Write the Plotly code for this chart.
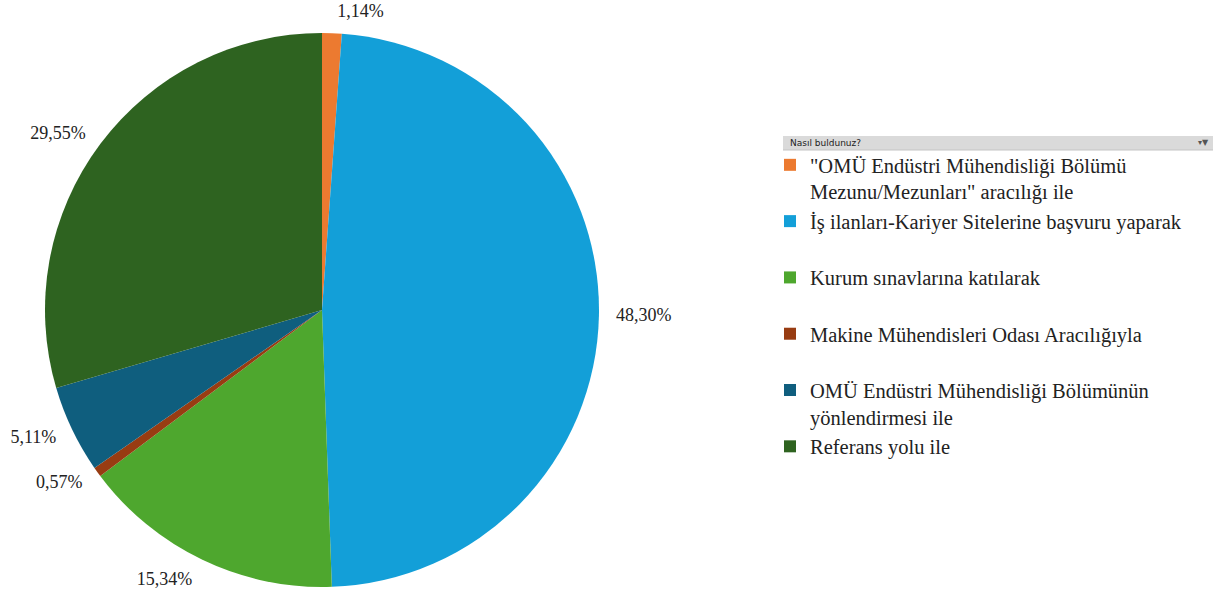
import plotly.graph_objects as go

CATEGORIES = [
    "\"OMÜ Endüstri Mühendisliği Bölümü<br>Mezunu/Mezunları\" aracılığı ile",
    "İş ilanları-Kariyer Sitelerine başvuru yaparak",
    "Kurum sınavlarına katılarak",
    "Makine Mühendisleri Odası Aracılığıyla",
    "OMÜ Endüstri Mühendisliği Bölümünün<br>yönlendirmesi ile",
    "Referans yolu ile",
]
SHARES = [1.14, 48.30, 15.34, 0.57, 5.11, 29.55]
COLORS = ["#ec7a30", "#139fd8", "#4ea72e", "#983c12", "#0f5e7e", "#2e6320"]
LEGEND_TITLE = "Nasıl buldunuz?"

W, H = 1226, 599


def fx(px):
    return px / W


def fy(py):
    return 1 - py / H


labels_txt = [f"{v:.2f}%".replace(".", ",") for v in SHARES]
# pad single-line legend entries so every entry takes the same height
legend_names = [c if "<br>" in c else c + "<br> " for c in CATEGORIES]
legend_names[-1] = CATEGORIES[-1]

fig = go.Figure()
fig.add_trace(
    go.Pie(
        labels=legend_names,
        values=SHARES,
        textinfo="none",
        sort=False,
        direction="clockwise",
        rotation=0,
        marker=dict(colors=COLORS, line=dict(width=0)),
        domain=dict(x=[fx(45), fx(599)], y=[fy(587), fy(33)]),
        customdata=labels_txt,
        hovertemplate="%{label}<br>%{customdata}<extra></extra>",
    )
)
# invisible, slightly larger pie carrying the percentage labels further out
fig.add_trace(
    go.Pie(
        labels=legend_names,
        values=SHARES,
        text=labels_txt,
        textinfo="text",
        textposition="outside",
        sort=False,
        direction="clockwise",
        rotation=0,
        showlegend=False,
        hoverinfo="skip",
        marker=dict(colors=["rgba(0,0,0,0)"] * len(SHARES), line=dict(width=0)),
        outsidetextfont=dict(family="Liberation Serif", size=18, color="#222"),
        domain=dict(x=[fx(33), fx(611)], y=[0, fy(21)]),
    )
)

# header bar above the legend (pivot field button look)
fig.add_shape(
    type="rect", xref="paper", yref="paper",
    x0=fx(783), x1=fx(1213), y0=fy(150), y1=fy(136),
    fillcolor="#dadada", line=dict(width=0), layer="below",
)
fig.add_shape(
    type="line", xref="paper", yref="paper",
    x0=fx(783), x1=fx(1213), y0=fy(150), y1=fy(150),
    line=dict(color="#c4c4c4", width=1),
)
fig.add_annotation(
    text=LEGEND_TITLE, xref="paper", yref="paper", x=fx(788), y=fy(143),
    xanchor="left", yanchor="middle", showarrow=False,
    font=dict(family="DejaVu Sans", size=9, color="#222"),
)
fig.add_annotation(
    text="▾▼", xref="paper", yref="paper", x=fx(1211), y=fy(143),
    xanchor="right", yanchor="middle", showarrow=False,
    font=dict(family="DejaVu Sans", size=8, color="#555"),
)

fig.update_layout(
    width=W,
    height=H,
    margin=dict(l=0, r=0, t=0, b=0, autoexpand=False),
    paper_bgcolor="white",
    plot_bgcolor="white",
    showlegend=True,
    legend=dict(
        x=fx(770), y=fy(145), xanchor="left", yanchor="top",
        font=dict(family="Liberation Serif", size=20.5, color="#222"),
        valign="top",
        itemwidth=30,
        tracegroupgap=0,
        bgcolor="rgba(0,0,0,0)",
    ),
)

# drop the default 8px body margin so the figure fills the window
fig.write_html(
    "out.html",
    config={"displayModeBar": False},
    post_script="document.body.style.margin = '0';",
)
